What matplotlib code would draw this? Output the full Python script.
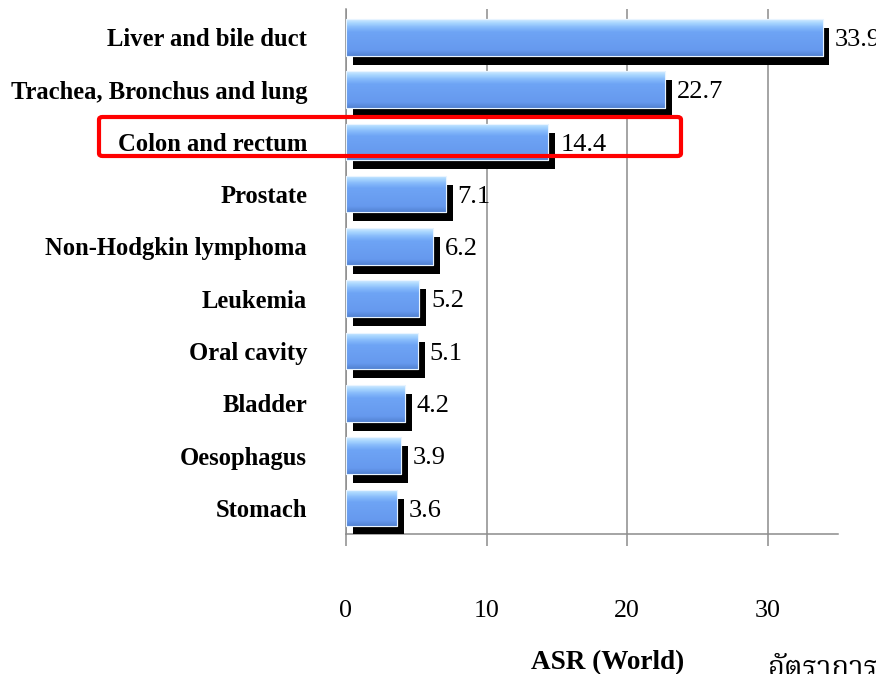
import numpy as np
import matplotlib
matplotlib.use("Agg")
import matplotlib.pyplot as plt
from matplotlib import patheffects, font_manager
from matplotlib.patches import FancyBboxPatch
from matplotlib.colors import to_rgb

sites = ["Stomach", "Oesophagus", "Bladder", "Oral cavity", "Leukemia",
         "Non-Hodgkin lymphoma", "Prostate", "Colon and rectum",
         "Trachea, Bronchus and lung", "Liver and bile duct"]
asr = [3.6, 3.9, 4.2, 5.1, 5.2, 6.2, 7.1, 14.4, 22.7, 33.9]
xticks = [0, 10, 20, 30]

# pick an installed family that covers Thai script
installed = {f.name for f in font_manager.fontManager.ttflist}
thai_family = next((n for n in ["Noto Serif Thai", "Sarabun", "Noto Sans Thai",
                                "Noto Sans Thai Looped", "Athiti", "Bai Jamjuree",
                                "Chakra Petch", "Anuphan"] if n in installed),
                   "DejaVu Sans")

plt.rcParams['font.family'] = ['Liberation Serif', 'DejaVu Sans']

fig = plt.figure(figsize=(8.76, 6.74), dpi=100)
ax = fig.add_axes([346 / 876, 140 / 674, 492 / 876, 525 / 674])

grey = '#8c8c8c'
bar_h = 0.7

# vertical colour ramp for the bevelled bar look
stops = [(0.0, '#d2ecff'), (0.1, '#a8d6ff'), (0.22, '#86bafb'),
         (0.35, '#6ea4f5'), (0.85, '#6699ee'), (1.0, '#5282d2')]
rows = np.linspace(0, 1, 60)
ramp = np.array([[np.interp(r, [s[0] for s in stops],
                            [to_rgb(s[1])[c] for s in stops]) for c in range(3)]
                 for r in rows])[:, None, :]

ypos = np.arange(len(sites))
bars = ax.barh(ypos, asr, height=bar_h, color='#6ea4f5', edgecolor='white',
               linewidth=0.8, zorder=3)
for b in bars:
    b.set_path_effects([patheffects.SimplePatchShadow(offset=(5, -6.5),
                                                      shadow_rgbFace='black',
                                                      alpha=1.0),
                        patheffects.Normal()])
    x0, y0 = b.get_x(), b.get_y()
    w, h = b.get_width(), b.get_height()
    im = ax.imshow(ramp, extent=(x0, x0 + w, y0, y0 + h), aspect='auto',
                   origin='upper', zorder=4, interpolation='bilinear')
    im.set_clip_path(b)
    # thin light rim on top of the gradient
    ax.barh(y0 + h / 2, w, left=x0, height=h, color='none',
            edgecolor='#e8f4ff', linewidth=0.8, zorder=5)

for y, v in zip(ypos, asr):
    ax.annotate(f"{v}", xy=(v, y), xytext=(8.5, -2), textcoords='offset points',
                ha='left', va='center', fontsize=19, zorder=6)

ax.set_xlim(0, 35)
ax.set_ylim(-0.5, 9.54)
ax.set_yticks(ypos)
ax.set_yticklabels(sites, fontsize=17.7, fontweight='bold')
ax.tick_params(axis='y', length=0, pad=28)
ax.set_xticks(xticks)
ax.tick_params(axis='x', length=8.5, width=1.1, color=grey, pad=39, labelsize=18.7)

ax.grid(axis='x', color=grey, linewidth=1.1, zorder=0)
ax.set_axisbelow(True)
for side in ['top', 'right']:
    ax.spines[side].set_visible(False)
for side in ['left', 'bottom']:
    ax.spines[side].set_color(grey)
    ax.spines[side].set_linewidth(1.1)

fig.text(608 / 876, 1 - 669 / 674, "ASR (World)", ha='center', va='baseline',
         fontsize=19.5, fontweight='bold')
fig.text(768 / 876, 1 - 676 / 674, "อัตราการเกิดโรค", ha='left', va='baseline',
         fontsize=21, fontweight='bold', family=[thai_family, 'DejaVu Sans'])

# highlight box around the colon and rectum row
box = FancyBboxPatch((99 / 876, 1 - 156 / 674), 582 / 876, 39 / 674,
                     boxstyle='round,pad=0,rounding_size=0.004',
                     transform=fig.transFigure, fill=False,
                     edgecolor='#ff0000', linewidth=3.0, zorder=10)
fig.add_artist(box)

fig.savefig("out.png", dpi=100)
